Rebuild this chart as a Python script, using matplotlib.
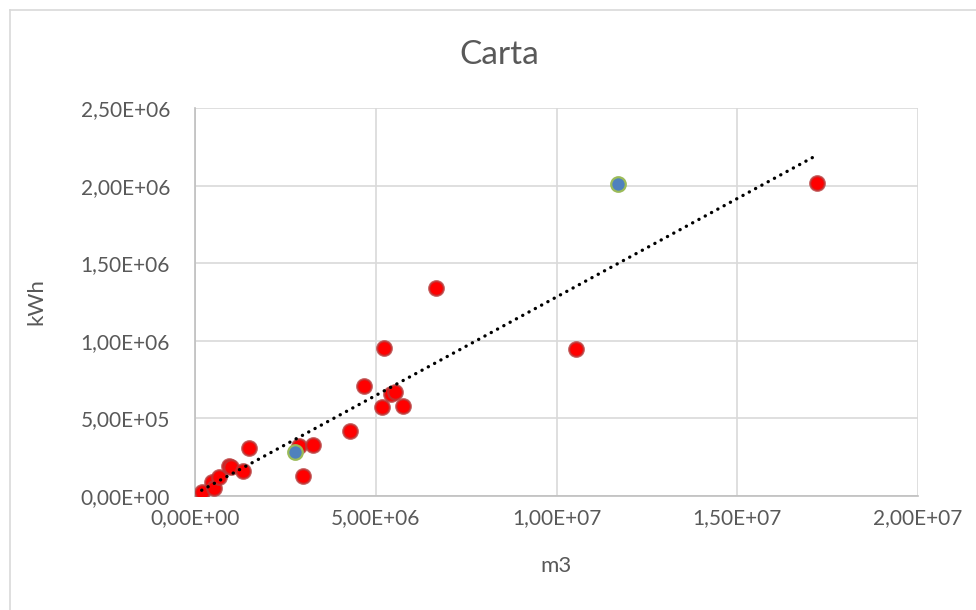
import matplotlib.pyplot as plt
import numpy as np
from matplotlib.ticker import FuncFormatter
from matplotlib.lines import Line2D

# m3 vs kWh
red_m3 = [0.185e6, 0.479e6, 0.534e6, 0.664e6, 0.95e6, 1.0e6, 1.33e6, 1.485e6,
          2.885e6, 2.98e6, 3.27e6, 4.29e6, 4.68e6, 5.16e6, 5.41e6, 5.53e6,
          5.76e6, 5.23e6, 6.67e6, 10.54e6, 17.2e6]
red_kwh = [0.024e6, 0.092e6, 0.053e6, 0.124e6, 0.195e6, 0.19e6, 0.163e6, 0.311e6,
           0.322e6, 0.131e6, 0.331e6, 0.419e6, 0.707e6, 0.572e6, 0.655e6, 0.668e6,
           0.58e6, 0.954e6, 1.34e6, 0.947e6, 2.017e6]
blue_m3 = [2.77e6, 11.70e6]
blue_kwh = [0.285e6, 2.01e6]

x_ticks = [0, 5e6, 1e7, 1.5e7, 2e7]
y_ticks = [0, 5e5, 1e6, 1.5e6, 2e6, 2.5e6]

plt.rcParams['font.family'] = ['Lato', 'DejaVu Sans']
txt = '#595959'


def excel_sci(v, _pos=None):
    s = f"{v:.2E}"
    return s.replace('.', ',')


fig = plt.figure(figsize=(9.76, 6.10), dpi=100)
ax = fig.add_axes([195 / 976, 1 - 496 / 610, 723 / 976, 388 / 610])

# outer chart border
fig.add_artist(Line2D([10 / 976, 10 / 976], [0, 1 - 10 / 610], transform=fig.transFigure,
                      color='#d9d9d9', lw=1.2))
fig.add_artist(Line2D([10 / 976, 1], [1 - 10 / 610, 1 - 10 / 610], transform=fig.transFigure,
                      color='#d9d9d9', lw=1.2))

all_x = np.array(red_m3 + blue_m3)
all_y = np.array(red_kwh + blue_kwh)
slope, icpt = np.polyfit(all_x, all_y, 1)
tx = np.array([all_x.min(), all_x.max()])
ax.plot(tx, slope * tx + icpt, color='black', lw=2.4, linestyle=(0, (0.05, 2.1)),
        dash_capstyle='round', zorder=4)

ax.scatter(red_m3, red_kwh, s=110, color='#ff0000', edgecolors=(0.72, 0.22, 0.22, 0.8),
           linewidths=1.6, zorder=3)
ax.scatter(blue_m3, blue_kwh, s=110, color='#4f81bd', edgecolors='#9bbb59',
           linewidths=1.6, zorder=3)

ax.set_xlim(0, 2e7)
ax.set_ylim(0, 2.5e6)
ax.set_xticks(x_ticks)
ax.set_yticks(y_ticks)
ax.xaxis.set_major_formatter(FuncFormatter(excel_sci))
ax.yaxis.set_major_formatter(FuncFormatter(excel_sci))
ax.grid(True, color='#d9d9d9', lw=1.2)
ax.set_axisbelow(True)
for side in ['top', 'right']:
    ax.spines[side].set_visible(False)
for side in ['left', 'bottom']:
    ax.spines[side].set_color('#bfbfbf')
    ax.spines[side].set_linewidth(1.2)
ax.tick_params(length=0, labelsize=15, labelcolor=txt)
ax.tick_params(axis='y', pad=18)
ax.tick_params(axis='x', pad=9)

ax.set_xlabel('m3', fontsize=16, color=txt, labelpad=20)
ax.set_ylabel('kWh', fontsize=16, color=txt, labelpad=25)
fig.text(499 / 976, 1 - 55 / 610, 'Carta', fontsize=24, color=txt, ha='center', va='center')

fig.savefig('out.png', dpi=100)
